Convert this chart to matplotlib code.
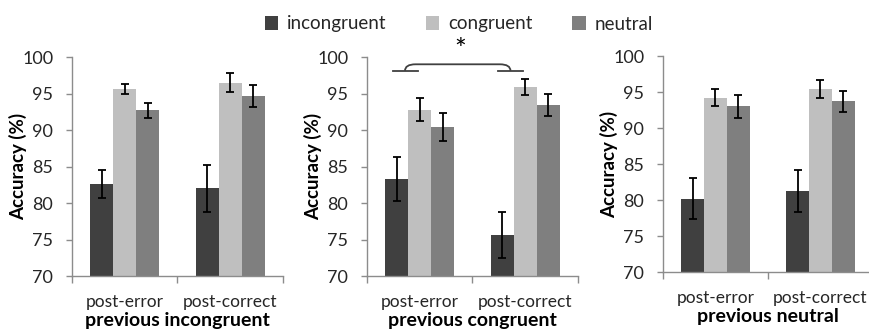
import numpy as np
import matplotlib.pyplot as plt
from matplotlib.path import Path
from matplotlib.patches import PathPatch

plt.rcParams['font.family'] = ['Lato', 'DejaVu Sans']

conditions = ['incongruent', 'congruent', 'neutral']
categories = ['post-error', 'post-correct']
panel_titles = ['previous incongruent', 'previous congruent', 'previous neutral']

# mean accuracy (%) per panel, rows = condition, cols = post-error / post-correct
means = [
    [[82.6, 82.0], [95.6, 96.5], [92.7, 94.7]],
    [[83.3, 75.6], [92.8, 95.9], [90.4, 93.4]],
    [[80.2, 81.3], [94.2, 95.4], [93.0, 93.7]],
]
errors = [
    [[1.9, 3.2], [0.7, 1.3], [1.0, 1.5]],
    [[3.0, 3.1], [1.6, 1.1], [1.9, 1.5]],
    [[2.9, 2.9], [1.2, 1.2], [1.6, 1.5]],
]
colors = ['#404040', '#bfbfbf', '#7f7f7f']
axis_color = '#8c8c8c'
text_color = '#262626'

fig = plt.figure(figsize=(8.7, 3.31), dpi=100)
W, H = 870, 331
# axes boxes in pixels: left, top, right, bottom
boxes = [(72, 57, 283, 276), (367, 57, 578, 276), (663, 56, 873, 272)]

bar_w = 0.218
x = np.arange(len(categories))
for p, (l, t, r, b) in enumerate(boxes):
    ax = fig.add_axes([l / W, (H - b) / H, (r - l) / W, (b - t) / H])
    for i, cond in enumerate(conditions):
        ax.bar(x + (i - 1) * bar_w, means[p][i], bar_w, bottom=0, color=colors[i],
               label=cond, zorder=2)
        ax.errorbar(x + (i - 1) * bar_w, means[p][i], yerr=errors[p][i], fmt='none',
                    ecolor='black', elinewidth=1.3, capsize=2.6, capthick=1.3, zorder=3)
    ax.set_ylim(70, 100)
    ax.set_xlim(-0.5, 1.5)
    ax.set_yticks(range(70, 101, 5))
    ax.set_xticks(x)
    ax.set_xticklabels(categories)
    ax.set_xticks([-0.5, 0.5, 1.5], minor=True)
    ax.tick_params(axis='x', which='major', length=0, pad=13, labelsize=12.5, labelcolor=text_color)
    ax.tick_params(axis='x', which='minor', length=5, color=axis_color, width=1)
    ax.tick_params(axis='y', length=4, color=axis_color, width=1, labelsize=13,
                   labelcolor=text_color, pad=9.5)
    for s in ['top', 'right']:
        ax.spines[s].set_visible(False)
    for s in ['left', 'bottom']:
        ax.spines[s].set_color(axis_color)
        ax.spines[s].set_linewidth(1)
    ax.set_ylabel('Accuracy (%)', fontsize=13.5, fontweight='bold')
    ax.yaxis.set_label_coords(-45 / (r - l), 0.5)
    ax.set_xlabel(panel_titles[p], fontsize=14, fontweight='bold', labelpad=1.5)

    if p == 1:
        # significance brace between post-error and post-correct incongruent
        y0, y1, rnd = 98.1, 99.0, 0.1
        xl0, xl1, xr0, xr1 = -0.25, -0.02, 0.74, 0.98
        bl, br = -0.14, 0.86
        verts = [(bl, y0), (bl, y1), (bl + rnd, y1), (br - rnd, y1), (br, y1), (br, y0)]
        codes = [Path.MOVETO, Path.CURVE3, Path.CURVE3, Path.LINETO, Path.CURVE3, Path.CURVE3]
        ax.add_patch(PathPatch(Path(verts, codes), fill=False, ec='#404040', lw=1.3,
                               clip_on=False))
        ax.plot([xl0, xl1], [y0, y0], color='#404040', lw=1.3, clip_on=False)
        ax.plot([xr0, xr1], [y0, y0], color='#404040', lw=1.3, clip_on=False)
        ax.text(0.38, 100.8, '*', ha='center', va='center', fontsize=20, clip_on=False)
    if p == 0:
        handles, labels = ax.get_legend_handles_labels()

fig.legend(handles, labels, loc='center', bbox_to_anchor=(459 / W, (H - 24) / H), ncol=3,
           frameon=False, fontsize=13.5, handlelength=0.7, handleheight=0.7,
           handletextpad=0.5, columnspacing=2.1, labelcolor=text_color)

plt.savefig('out.png', dpi=100)
